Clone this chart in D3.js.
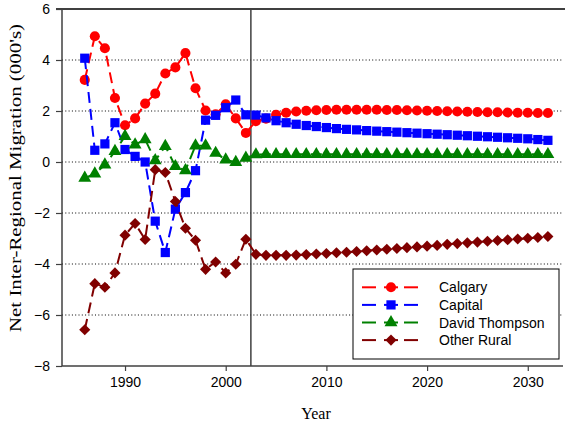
<!DOCTYPE html>
<html><head><meta charset="utf-8">
<script src="https://cdn.jsdelivr.net/npm/d3@7"></script>
<style>body{margin:0;background:#fff}svg{display:block}</style>
</head><body>
<svg id="chart" width="565" height="425"></svg>
<script>
const years = d3.range(1986, 2033);
const calgary = [3.22,4.93,4.46,2.51,1.44,1.71,2.29,2.68,3.47,3.71,4.27,2.89,2.02,1.87,2.26,1.71,1.14,
  1.60,1.70,1.85,1.93,1.98,2.01,2.03,2.04,2.05,2.05,2.05,2.05,2.05,2.04,2.04,2.03,2.02,2.01,2.00,1.99,
  1.98,1.97,1.96,1.95,1.95,1.94,1.93,1.93,1.92,1.92];
const capital = [4.07,0.46,0.71,1.54,0.49,0.22,0.00,-2.32,-3.55,-1.85,-1.20,-0.34,1.64,1.83,2.13,2.43,1.85,
  1.84,1.73,1.62,1.54,1.48,1.43,1.39,1.35,1.31,1.28,1.26,1.23,1.21,1.19,1.17,1.15,1.13,1.11,1.09,1.07,
  1.05,1.03,1.01,0.99,0.97,0.95,0.93,0.91,0.88,0.85];
const davidThompson = [-0.63,-0.46,-0.11,0.42,1.01,0.68,0.88,0.06,0.62,-0.17,-0.33,0.64,0.64,0.35,0.09,-0.01,0.16,
  0.29,0.30,0.30,0.30,0.30,0.30,0.30,0.30,0.30,0.30,0.30,0.30,0.30,0.30,0.30,0.30,0.30,0.30,0.30,0.30,
  0.30,0.30,0.30,0.30,0.30,0.30,0.30,0.30,0.30,0.30];
const otherRural = [-6.58,-4.77,-4.91,-4.35,-2.87,-2.41,-3.04,-0.30,-0.41,-1.55,-2.60,-3.07,-4.21,-3.92,-4.35,-4.01,-3.03,
  -3.62,-3.66,-3.66,-3.66,-3.65,-3.63,-3.61,-3.59,-3.56,-3.54,-3.51,-3.48,-3.45,-3.42,-3.39,-3.36,-3.33,-3.30,-3.27,-3.23,
  -3.20,-3.17,-3.14,-3.11,-3.08,-3.05,-3.02,-2.99,-2.96,-2.92];
const seriesNames = ["Calgary","Capital","David Thompson","Other Rural"];
const seriesColors = ["#ff0000","#0000ff","#008000","#800000"];
const xTicks = [1990, 2000, 2010, 2020, 2030];
const yTicks = [-8,-6,-4,-2,0,2,4,6];
const gridValues = [-6,-4,-2,0,2,4];
const dividerYear = 2002.5;

const seriesData = [calgary, capital, davidThompson, otherRural];
// marker shapes: symbol type, area, rotation
const markerDefs = [
  {type: d3.symbolCircle, size: 80, rot: 0},
  {type: d3.symbolSquare, size: 85, rot: 0},
  {type: d3.symbolTriangle, size: 72, rot: 0},
  {type: d3.symbolSquare, size: 62, rot: 45}
];

const svg = d3.select("#chart");
const L = 62, R = 563, T = 9, B = 366;
const x = d3.scaleLinear().domain([1983.74, 2033.5]).range([L, R]);
const y = d3.scaleLinear().domain([-8, 6]).range([B, T]);

// gridlines
svg.append("g").selectAll("line").data(gridValues).join("line")
  .attr("x1", L).attr("x2", R).attr("y1", d => y(d)).attr("y2", d => y(d))
  .attr("stroke", "#000").attr("stroke-width", 1).attr("stroke-dasharray", "1,2.3");

// top border
svg.append("line").attr("x1", L - 6).attr("x2", R + 2).attr("y1", T).attr("y2", T)
  .attr("stroke", "#000").attr("stroke-width", 1.5);

// divider
svg.append("line").attr("x1", x(dividerYear)).attr("x2", x(dividerYear)).attr("y1", T).attr("y2", B)
  .attr("stroke", "#404040").attr("stroke-width", 1.5);

// axes
const xAxis = svg.append("g").attr("transform", `translate(0,${B})`)
  .call(d3.axisBottom(x).tickValues(xTicks).tickFormat(d3.format("d")).tickSize(5).tickPadding(6));
const yAxis = svg.append("g").attr("transform", `translate(${L},0)`)
  .call(d3.axisLeft(y).tickValues(yTicks).tickFormat(d3.format("d")).tickSize(6).tickPadding(6));
[xAxis, yAxis].forEach(a => {
  a.select(".domain").attr("stroke", "#404040").attr("stroke-width", 1.5);
  a.selectAll(".tick line").attr("stroke", "#404040").attr("stroke-width", 1.2);
  a.selectAll("text").attr("font-family", "Liberation Sans, Arial, sans-serif").attr("font-size", 14).attr("fill", "#000");
});
xAxis.select(".domain").attr("d", `M${L},0H${R}`);
yAxis.select(".domain").attr("d", `M0,${B}V${T}`);

function marker(sel, k) {
  const m = markerDefs[k];
  sel.attr("d", d3.symbol().type(m.type).size(m.size)).attr("fill", seriesColors[k]);
}

// series
const line = d3.line().x((d, i) => x(years[i])).y(d => y(d));
seriesData.forEach((vals, k) => {
  svg.append("path").datum(vals).attr("d", line)
    .attr("fill", "none").attr("stroke", seriesColors[k]).attr("stroke-width", 2)
    .attr("stroke-dasharray", "11,6");
  svg.append("g").selectAll("path").data(vals).join("path")
    .attr("transform", (d, i) => `translate(${x(years[i])},${y(d)}) rotate(${markerDefs[k].rot})`)
    .call(marker, k);
});

// legend
const lg = svg.append("g");
lg.append("rect").attr("x", 353).attr("y", 269).attr("width", 206).attr("height", 90)
  .attr("fill", "#fff").attr("stroke", "#000").attr("stroke-width", 1);
seriesNames.forEach((name, k) => {
  const ly = 287.3 + k * 17.6;
  [[362, 376], [384, 398], [404, 418]].forEach(([a, b]) => {
    lg.append("line").attr("x1", a).attr("x2", b).attr("y1", ly).attr("y2", ly)
      .attr("stroke", seriesColors[k]).attr("stroke-width", 2);
  });
  lg.append("path").attr("transform", `translate(391,${ly}) rotate(${markerDefs[k].rot})`).call(marker, k);
  lg.append("text").attr("x", 439).attr("y", ly + 5).text(name)
    .attr("font-family", "Liberation Sans, Arial, sans-serif").attr("font-size", 14);
});

// axis titles
svg.append("text").attr("x", 316).attr("y", 419).attr("text-anchor", "middle")
  .attr("font-family", "Liberation Serif, Times New Roman, serif").attr("font-size", 16).text("Year");
svg.append("text").attr("transform", `translate(21,178) rotate(-90)`).attr("text-anchor", "middle")
  .attr("font-family", "Liberation Serif, Times New Roman, serif").attr("font-size", 16.5)
  .attr("textLength", 308).attr("lengthAdjust", "spacingAndGlyphs")
  .text("Net Inter-Regional Migration (000's)");
</script>
</body></html>
